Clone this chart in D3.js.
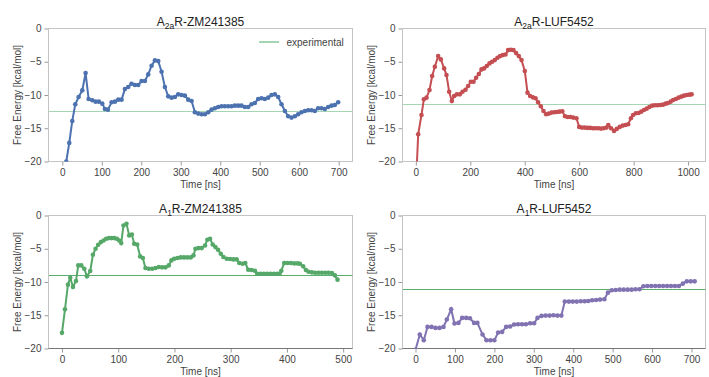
<!DOCTYPE html>
<html>
<head>
<meta charset="utf-8">
<script src="https://cdn.jsdelivr.net/npm/d3@7"></script>
<style>
  body { margin: 0; background: #fff; }
  svg text { font-family: "Liberation Sans", Arial, sans-serif; fill: #333; }
</style>
</head>
<body>
<div id="chart"></div>
<script>
// [time (ns), free energy (kcal/mol)]
const a2aZM = [[0,-24],[10,-20],[17.6,-17.2],[25.2,-13.9],[32.8,-11.4],[41.3,-10.3],[50.6,-9.3],[59,-6.7],[66.6,-10.6],[75.9,-10.8],[84.3,-11],[92.7,-11],[101.2,-11.3],[107.9,-12.1],[115.5,-12.2],[124.8,-11.1],[133.2,-11],[141.7,-10.7],[150.1,-10.7],[158.6,-9.1],[167,-8.8],[175.4,-8.3],[183.9,-8.5],[192.3,-8.5],[200.8,-7.9],[209.2,-7.9],[217.6,-6.9],[226.1,-5.6],[234.5,-4.8],[243,-4.9],[251.4,-6.5],[259.8,-8.8],[268.3,-10.2],[276.7,-10.4],[285.2,-10.3],[293.6,-9.9],[302,-10],[310.5,-10.1],[318.9,-10.7],[327.4,-10.9],[335.8,-12.6],[344.2,-12.8],[352.7,-12.9],[361.1,-12.9],[369.6,-12.6],[378,-12.2],[386.4,-12],[394.9,-11.8],[403.3,-11.7],[411.7,-11.7],[420.2,-11.7],[428.6,-11.7],[437.1,-11.6],[445.5,-11.6],[453.9,-11.6],[462.4,-11.8],[470.8,-11.8],[479.3,-11.4],[487.7,-11.2],[496.1,-10.6],[504.6,-10.5],[513,-10.6],[521.5,-10.4],[529.9,-10],[538.3,-9.9],[546.8,-10.3],[555.2,-11.4],[563.7,-12.4],[572.1,-13.2],[580.5,-13.4],[589,-13.2],[597.4,-12.9],[605.8,-12.6],[614.3,-12.4],[622.7,-12.3],[631.2,-12.3],[639.6,-12.4],[648,-12],[656.5,-12],[664.9,-12.1],[673.4,-11.8],[681.8,-11.6],[690.2,-11.5],[698.7,-11.1]]

const a2aLUF = [[0,-24],[8.6,-15.9],[20.8,-13],[29.4,-10.65],[39.2,-10.4],[50.2,-9.25],[60,-7.15],[69.8,-5.75],[82,-4.15],[91.8,-4.65],[104,-6],[112.6,-7],[122.4,-9.5],[132.2,-10.9],[140.8,-10.15],[150.6,-9.9],[161.6,-9.9],[171.5,-9.5],[182.5,-9.2],[192.1,-8.65],[202,-8],[211.9,-8],[221.4,-7.4],[231.4,-6.85],[241.2,-6.15],[250.7,-6],[260.6,-5.65],[270.5,-5.25],[280.1,-5],[290,-4.75],[299.9,-4.4],[309.4,-4.15],[319.5,-4],[329.4,-3.9],[338.9,-3.25],[348.8,-3.2],[358.7,-3.25],[368.3,-3.7],[378.2,-4.15],[388.2,-4.75],[400.3,-6.4],[410.2,-9.65],[419.8,-10.15],[429.7,-10.35],[439.6,-10.5],[449.1,-11.1],[459,-11.7],[468.9,-12.4],[478.5,-12.9],[488.4,-12.8],[498.3,-12.65],[508,-12.6],[518,-12.55],[528,-12.5],[538,-12.45],[548,-13.2],[558,-13.3],[568,-13.3],[578,-13.4],[590,-13.5],[600,-14.8],[610,-14.9],[620,-14.9],[630,-14.95],[640,-14.95],[650,-15],[660,-15],[670,-15],[680,-15.05],[690,-15],[700,-14.9],[707,-14.5],[717,-15],[728,-15.4],[738,-15.1],[749,-14.8],[760,-14.6],[770,-14.5],[780,-14.4],[790,-13.5],[798,-13],[808,-12.75],[818,-12.7],[828,-12.5],[838,-12.25],[848,-12.05],[858,-11.8],[868,-11.6],[878,-11.55],[888,-11.55],[898,-11.5],[908,-11.45],[918,-11.3],[926,-11.2],[936,-11],[945,-10.75],[955,-10.6],[965,-10.4],[975,-10.25],[985,-10.1],[995,-10],[1005,-9.95],[1013,-9.9]]

const a1ZM = [[0,-17.65],[5.3,-14.1],[10.6,-10.4],[14.7,-9.35],[19.5,-10.75],[24.9,-9.85],[28.9,-7.5],[34.3,-7.5],[39.6,-8],[44.4,-9.15],[50.2,-8.35],[55,-5.9],[59.7,-5],[64.4,-4.4],[69.2,-4],[73.9,-3.75],[78.6,-3.5],[83.4,-3.4],[88.1,-3.4],[92.9,-3.4],[97.6,-3.5],[101.7,-3.75],[105.3,-4.15],[109.4,-1.5],[114.7,-1.25],[119.5,-3],[124.3,-2.85],[128.4,-4.25],[133.7,-4.35],[139,-6.15],[143.8,-6.4],[148.4,-7.9],[154.4,-8],[160.4,-8],[166.3,-7.9],[172.2,-7.75],[178,-7.8],[184,-7.8],[189.9,-7.5],[194.6,-6.75],[199.4,-6.5],[205.3,-6.4],[211.2,-6.3],[217,-6.3],[223,-6.3],[229,-6.3],[233.8,-6],[237.3,-5],[242.6,-4.9],[248.5,-4.9],[254.4,-4.5],[258.5,-3.65],[263.3,-3.5],[268,-4.35],[272.8,-4.75],[277.5,-5.15],[282.3,-5.75],[287,-6.25],[292.9,-6.5],[298.8,-6.55],[304.7,-6.6],[310.6,-6.6],[315.3,-7.15],[321.2,-7.25],[325.9,-7.15],[331.2,-8.15],[337.1,-8.2],[343,-8.3],[347.1,-8.75],[353,-8.75],[359,-8.75],[365,-8.75],[371,-8.75],[377,-8.75],[383,-8.75],[387,-8.75],[390,-8.3],[395.2,-7.15],[401,-7.15],[407,-7.15],[413,-7.2],[419,-7.2],[423,-7.25],[428.9,-7.65],[433.7,-8.2],[438.4,-8.45],[444.3,-8.55],[450,-8.6],[456,-8.6],[462,-8.6],[468,-8.6],[474,-8.6],[480,-8.65],[485.2,-9],[490,-9.65]]

const a1LUF = [[0,-20.2],[10.9,-17.9],[21,-18.75],[30.4,-16.75],[40.6,-16.75],[50.7,-16.9],[60.9,-16.9],[71,-16.75],[79.4,-15.65],[90.4,-14.1],[98.9,-16.25],[109,-16.15],[118.3,-15.4],[128.4,-15.4],[138,-15.45],[148.6,-16.15],[157,-16.15],[170,-17.9],[180,-18.75],[190,-18.75],[200,-18.75],[209.5,-17.6],[219.7,-17.5],[229.8,-16.75],[240,-16.7],[250,-16.4],[260,-16.35],[270,-16.35],[280,-16.35],[290.7,-16.2],[300.8,-16.2],[309.4,-15.4],[319.6,-15.1],[330,-15.05],[340,-15.05],[350,-15],[360,-15.05],[370,-15.05],[378.6,-12.95],[389,-12.95],[399,-12.95],[409,-12.95],[419,-12.9],[429,-12.9],[438,-12.85],[448,-12.75],[458,-12.7],[468,-12.65],[479,-12.6],[488,-11.6],[498,-11.25],[508,-11.2],[518,-11.15],[528,-11.15],[538,-11.15],[548,-11.15],[558,-11.1],[568,-11.1],[578,-10.65],[588,-10.6],[598,-10.6],[608,-10.6],[618,-10.6],[628,-10.6],[638,-10.6],[648,-10.6],[658,-10.6],[668,-10.6],[678,-10.25],[688,-9.9],[698,-9.9],[708,-9.9]]

const experimental = [-12.5, -11.4, -9.05, -11.15]
const yTicks = [0, -5, -10, -15, -20]
const xTicksTL = [0, 100, 200, 300, 400, 500, 600, 700]
const xTicksTR = [0, 200, 400, 600, 800, 1000]
const xTicksBL = [0, 100, 200, 300, 400, 500]
const xTicksBR = [0, 100, 200, 300, 400, 500, 600, 700]

const width = 709, height = 377

const svg = d3.select('#chart').append('svg')
  .attr('width', width)
  .attr('height', height)

/**
 * Draws one panel.
 */
function panel(cfg, idx) {
  const x = d3.scaleLinear().domain(cfg.xdom).range([cfg.left, cfg.right])
  const y = d3.scaleLinear().domain([-20, 0]).range([cfg.bottom, cfg.top])
  const g = svg.append('g')

  g.append('clipPath').attr('id', 'clip' + idx)
    .append('rect')
    .attr('x', cfg.left).attr('y', cfg.top)
    .attr('width', cfg.right - cfg.left).attr('height', cfg.bottom - cfg.top)

  // x axis
  const xa = g.append('g')
    .attr('transform', 'translate(0,' + cfg.bottom + ')')
    .call(d3.axisBottom(x).tickValues(cfg.xticks).tickSize(4).tickPadding(3).tickFormat(d3.format('d')))
  // y axis
  const ya = g.append('g')
    .attr('transform', 'translate(' + cfg.left + ',0)')
    .call(d3.axisLeft(y).tickValues(yTicks).tickSize(4).tickPadding(3)
      .tickFormat(d => d === 0 ? '0' : '\u2212' + Math.abs(d)))
  ;[xa, ya].forEach(a => {
    a.select('.domain').remove()
    a.selectAll('.tick line').attr('stroke', '#999')
    a.selectAll('.tick text').style('font-size', '10px').style('fill', '#444')
  })

  // frame
  g.append('rect')
    .attr('x', cfg.left).attr('y', cfg.top)
    .attr('width', cfg.right - cfg.left).attr('height', cfg.bottom - cfg.top)
    .attr('fill', 'none').attr('stroke', '#c4c4c4')
  g.append('line')
    .attr('x1', cfg.left).attr('x2', cfg.right)
    .attr('y1', cfg.bottom).attr('y2', cfg.bottom)
    .attr('stroke', cfg.bottomSpine)

  const plot = g.append('g').attr('clip-path', 'url(#clip' + idx + ')')

  // experimental value
  plot.append('line')
    .attr('x1', cfg.left).attr('x2', cfg.right)
    .attr('y1', y(cfg.exp)).attr('y2', y(cfg.exp))
    .attr('stroke', cfg.expColor).attr('stroke-width', 1.5)
    .attr('shape-rendering', 'crispEdges')

  const line = d3.line().x(d => x(d[0])).y(d => y(d[1]))
  plot.append('path')
    .datum(cfg.data)
    .attr('d', line)
    .attr('fill', 'none')
    .attr('stroke', cfg.color)
    .attr('stroke-width', 2)
  plot.selectAll('circle')
    .data(cfg.data)
    .enter()
    .append('circle')
    .attr('cx', d => x(d[0]))
    .attr('cy', d => y(d[1]))
    .attr('r', 2.3)
    .attr('fill', cfg.color)

  // title with subscript
  const t = g.append('text')
    .attr('x', (cfg.left + cfg.right) / 2)
    .attr('y', cfg.top - 3)
    .attr('text-anchor', 'middle')
    .style('font-size', '12px')
    .style('fill', '#222')
  t.append('tspan').text('A')
  t.append('tspan').attr('dy', 3).style('font-size', '8.5px').text(cfg.sub)
  t.append('tspan').attr('dy', -3).text(cfg.name)

  g.append('text')
    .attr('x', (cfg.left + cfg.right) / 2)
    .attr('y', cfg.bottom + 26)
    .attr('text-anchor', 'middle')
    .style('font-size', '10px')
    .style('fill', '#444')
    .text('Time [ns]')

  g.append('text')
    .attr('transform', 'translate(' + (cfg.left - 28) + ',' + ((cfg.top + cfg.bottom) / 2) + ') rotate(-90)')
    .attr('text-anchor', 'middle')
    .style('font-size', '10px')
    .style('fill', '#444')
    .text('Free Energy [kcal/mol]')

  if (cfg.legend) {
    const lx = cfg.right - 94, ly = cfg.top + 13.5
    g.append('line')
      .attr('x1', lx).attr('x2', lx + 20)
      .attr('y1', ly).attr('y2', ly)
      .attr('stroke', cfg.expColor).attr('stroke-width', 1.5)
      .attr('shape-rendering', 'crispEdges')
    g.append('text')
      .attr('x', lx + 28).attr('y', ly + 3.5)
      .style('font-size', '10px')
      .style('fill', '#444')
      .text('experimental')
  }
}

const panels = [
  { data: a2aZM, color: '#4C72B0', sub: '2a', name: 'R-ZM241385', xdom: [-35, 735], xticks: xTicksTL,
    left: 48.5, right: 352.5, top: 28.5, bottom: 161.5, exp: experimental[0], expColor: '#a6d5b3', bottomSpine: '#c4c4c4', legend: true },
  { data: a2aLUF, color: '#C44E52', sub: '2a', name: 'R-LUF5452', xdom: [-49, 1064], xticks: xTicksTR,
    left: 402.5, right: 705.5, top: 28.5, bottom: 161.5, exp: experimental[1], expColor: '#a6d5b3', bottomSpine: '#c4c4c4' },
  { data: a1ZM, color: '#55A868', sub: '1', name: 'R-ZM241385', xdom: [-24, 516.6], xticks: xTicksBL,
    left: 48.5, right: 352.5, top: 215.5, bottom: 348.5, exp: experimental[2], expColor: '#5aae6d', bottomSpine: '#777' },
  { data: a1LUF, color: '#8172B2', sub: '1', name: 'R-LUF5452', xdom: [-33, 735.5], xticks: xTicksBR,
    left: 402.5, right: 705.5, top: 215.5, bottom: 348.5, exp: experimental[3], expColor: '#5aae6d', bottomSpine: '#777' }
]

panels.forEach((p, i) => panel(p, i))
</script>
</body>
</html>
